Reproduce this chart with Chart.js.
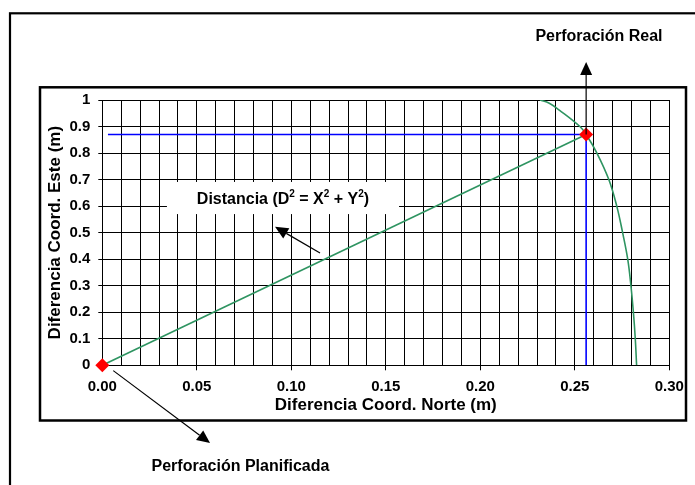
<!DOCTYPE html>
<html>
<head>
<meta charset="utf-8">
<script src="https://cdn.jsdelivr.net/npm/chart.js@4.4.1/dist/chart.umd.min.js"></script>
<style>
  html, body { margin: 0; padding: 0; background: #fff; }
  #wrap { width: 695px; height: 485px; }
</style>
</head>
<body>
<div id="wrap"><canvas id="c" width="695" height="485"></canvas></div>
<script>
// Straight distance from the planned to the actual drilling position
const distanceX = [0, 0.256];
const distanceY = [0, 0.87];

// Arc of constant distance through the actual position
const arcX = [0.2316, 0.2365, 0.2418, 0.2527, 0.2560, 0.2617, 0.2680, 0.2722, 0.2753, 0.2780, 0.2797, 0.2810, 0.2820, 0.2827];
const arcY = [1.00, 0.988, 0.962, 0.90, 0.87, 0.80, 0.70, 0.60, 0.50, 0.40, 0.30, 0.20, 0.10, 0.00];

// Blue reference lines projecting the actual position onto the axes
const guideHX = [0.003, 0.256];
const guideHY = [0.87, 0.87];
const guideVX = [0.256, 0.256];
const guideVY = [0.87, 0];

// Planned and actual drilling points
const holeX = [0, 0.256];
const holeY = [0, 0.87];

// Axis tick labels
const xTickLabels = ['0.00', '0.05', '0.10', '0.15', '0.20', '0.25', '0.30'];
const yTickLabels = ['0', '0.1', '0.2', '0.3', '0.4', '0.5', '0.6', '0.7', '0.8', '0.9', '1'];

// Callout texts
const labelReal = 'Perforación Real';
const labelPlanned = 'Perforación Planificada';
const xTitle = 'Diferencia Coord. Norte (m)';
const yTitle = 'Diferencia Coord. Este (m)';

const zip = (xs, ys) => xs.map((x, i) => ({ x: x, y: ys[i] }));

const FONT = "'Liberation Sans', Arial, Helvetica, sans-serif";

// Callouts are anchored in data units and converted through the scales
const callouts = {
  box: { x0: 0.0342, x1: 0.157, y0: 0.57, y1: 0.691 },
  distText: { x: 0.0956, y: 0.623 },
  distArrow: { from: [0.1152, 0.423], to: [0.0914, 0.522] },
  realArrow: { from: [0.256, 0.87], to: [0.256, 1.143] },
  realText: { x: 0.2628, y: 1.24 },
  plannedArrow: { from: [0.0058, -0.02], to: [0.057, -0.293] },
  plannedText: { x: 0.0731, y: -0.38 }
};

function drawArrow(ctx, x1, y1, x2, y2) {
  const a = Math.atan2(y2 - y1, x2 - x1);
  const len = 13, half = 6;
  const bx = x2 - Math.cos(a) * len, by = y2 - Math.sin(a) * len;
  ctx.save();
  ctx.strokeStyle = '#000';
  ctx.fillStyle = '#000';
  ctx.lineWidth = 1.2;
  ctx.beginPath();
  ctx.moveTo(x1, y1);
  ctx.lineTo(bx, by);
  ctx.stroke();
  ctx.beginPath();
  ctx.moveTo(x2, y2);
  ctx.lineTo(bx + Math.sin(a) * half, by - Math.cos(a) * half);
  ctx.lineTo(bx - Math.sin(a) * half, by + Math.cos(a) * half);
  ctx.closePath();
  ctx.fill();
  ctx.restore();
}

function drawSupText(ctx, parts, cx, cy, size) {
  const base = 'bold ' + size + 'px ' + FONT;
  const sup = 'bold ' + Math.round(size * 0.62) + 'px ' + FONT;
  let total = 0;
  parts.forEach(p => { ctx.font = p.sup ? sup : base; total += ctx.measureText(p.t).width; });
  let x = cx - total / 2;
  ctx.textBaseline = 'middle';
  ctx.textAlign = 'left';
  ctx.fillStyle = '#000';
  parts.forEach(p => {
    ctx.font = p.sup ? sup : base;
    ctx.fillText(p.t, x, p.sup ? cy - size * 0.38 : cy);
    x += ctx.measureText(p.t).width;
  });
}

const framePlugin = {
  id: 'frames',
  beforeDraw(chart) {
    const ctx = chart.ctx;
    ctx.save();
    ctx.fillStyle = '#fff';
    ctx.fillRect(0, 0, chart.width, chart.height);
    ctx.strokeStyle = '#000';
    ctx.lineWidth = 2.2;
    ctx.strokeRect(10, 13.3, 720, 520);
    ctx.lineWidth = 2.5;
    ctx.strokeRect(40, 87.3, 646, 333.2);
    ctx.restore();
  },
  beforeDatasetsDraw(chart) {
    const { ctx, scales: { x, y } } = chart;
    const b = callouts.box;
    const l = x.getPixelForValue(b.x0), r = x.getPixelForValue(b.x1);
    const t = y.getPixelForValue(b.y1), btm = y.getPixelForValue(b.y0);
    ctx.save();
    ctx.fillStyle = '#fff';
    ctx.fillRect(l, t, r - l, btm - t);
    ctx.restore();
  },
  afterDraw(chart) {
    const { ctx, scales: { x, y } } = chart;
    const px = p => [x.getPixelForValue(p[0]), y.getPixelForValue(p[1])];
    ctx.save();
    // Distance formula label
    drawSupText(ctx, [
      { t: 'Distancia (D' }, { t: '2', sup: true }, { t: ' = X' }, { t: '2', sup: true },
      { t: ' + Y' }, { t: '2', sup: true }, { t: ')' }
    ], x.getPixelForValue(callouts.distText.x), y.getPixelForValue(callouts.distText.y), 16);

    const arrows = [callouts.distArrow, callouts.realArrow, callouts.plannedArrow];
    arrows.forEach(a => {
      const f = px(a.from), t = px(a.to);
      drawArrow(ctx, f[0], f[1], t[0], t[1]);
    });

    ctx.font = 'bold 16px ' + FONT;
    ctx.fillStyle = '#000';
    ctx.textAlign = 'center';
    ctx.textBaseline = 'middle';
    ctx.fillText(labelReal, x.getPixelForValue(callouts.realText.x), y.getPixelForValue(callouts.realText.y));
    ctx.fillText(labelPlanned, x.getPixelForValue(callouts.plannedText.x), y.getPixelForValue(callouts.plannedText.y));
    ctx.restore();
  }
};

const isMajorX = v => Math.abs(v / 0.05 - Math.round(v / 0.05)) < 1e-6;

new Chart(document.getElementById('c'), {
  type: 'scatter',
  data: {
    datasets: [
      {
        data: zip(holeX, holeY),
        showLine: false,
        pointStyle: 'rectRot',
        pointRadius: 7,
        pointBackgroundColor: '#ff0000',
        pointBorderColor: '#ff0000',
        pointBorderWidth: 0,
        clip: false
      },
      {
        data: zip(distanceX, distanceY),
        showLine: true,
        borderColor: '#2e9461',
        borderWidth: 1.6,
        pointRadius: 0,
        fill: false
      },
      {
        data: zip(arcX, arcY),
        showLine: true,
        borderColor: '#2e9461',
        borderWidth: 1.6,
        pointRadius: 0,
        tension: 0.4,
        fill: false
      },
      {
        data: zip(guideHX, guideHY),
        showLine: true,
        borderColor: '#0000ff',
        borderWidth: 1.6,
        pointRadius: 0
      },
      {
        data: zip(guideVX, guideVY),
        showLine: true,
        borderColor: '#0000ff',
        borderWidth: 1.6,
        pointRadius: 0
      }
    ]
  },
  options: {
    responsive: false,
    animation: false,
    devicePixelRatio: 1,
    layout: { padding: { left: 40, right: 25.7, top: 100, bottom: 64.7 } },
    plugins: { legend: { display: false }, tooltip: { enabled: false } },
    scales: {
      x: {
        type: 'linear',
        min: 0,
        max: 0.3,
        afterFit: s => { s.height = 55; },
        border: { color: '#000', width: 1 },
        grid: {
          color: '#000',
          lineWidth: 1,
          tickLength: 5,
          tickColor: c => (c.tick && isMajorX(c.tick.value)) ? '#000' : 'rgba(0,0,0,0)'
        },
        ticks: {
          stepSize: 0.01,
          autoSkip: false,
          maxRotation: 0,
          padding: 8,
          color: '#000',
          font: { family: FONT, size: 15, weight: 'bold' },
          callback: (v, i) => (i % 5 === 0 ? xTickLabels[i / 5] : '')
        },
        title: {
          display: true,
          text: xTitle,
          color: '#000',
          font: { family: FONT, size: 17, weight: 'bold' },
          padding: { top: 0, bottom: 5 }
        }
      },
      y: {
        type: 'linear',
        min: 0,
        max: 1,
        afterFit: s => { s.width = 62.3; },
        border: { color: '#000', width: 1 },
        grid: { color: '#000', lineWidth: 1, tickLength: 4, tickColor: '#000' },
        ticks: {
          stepSize: 0.1,
          autoSkip: false,
          padding: 8,
          color: '#000',
          font: { family: FONT, size: 15, weight: 'bold' },
          callback: (v, i) => yTickLabels[i]
        },
        title: {
          display: true,
          text: yTitle,
          color: '#000',
          font: { family: FONT, size: 17, weight: 'bold' },
          padding: { top: 5, bottom: 0 }
        }
      }
    }
  },
  plugins: [framePlugin]
});
</script>
</body>
</html>
